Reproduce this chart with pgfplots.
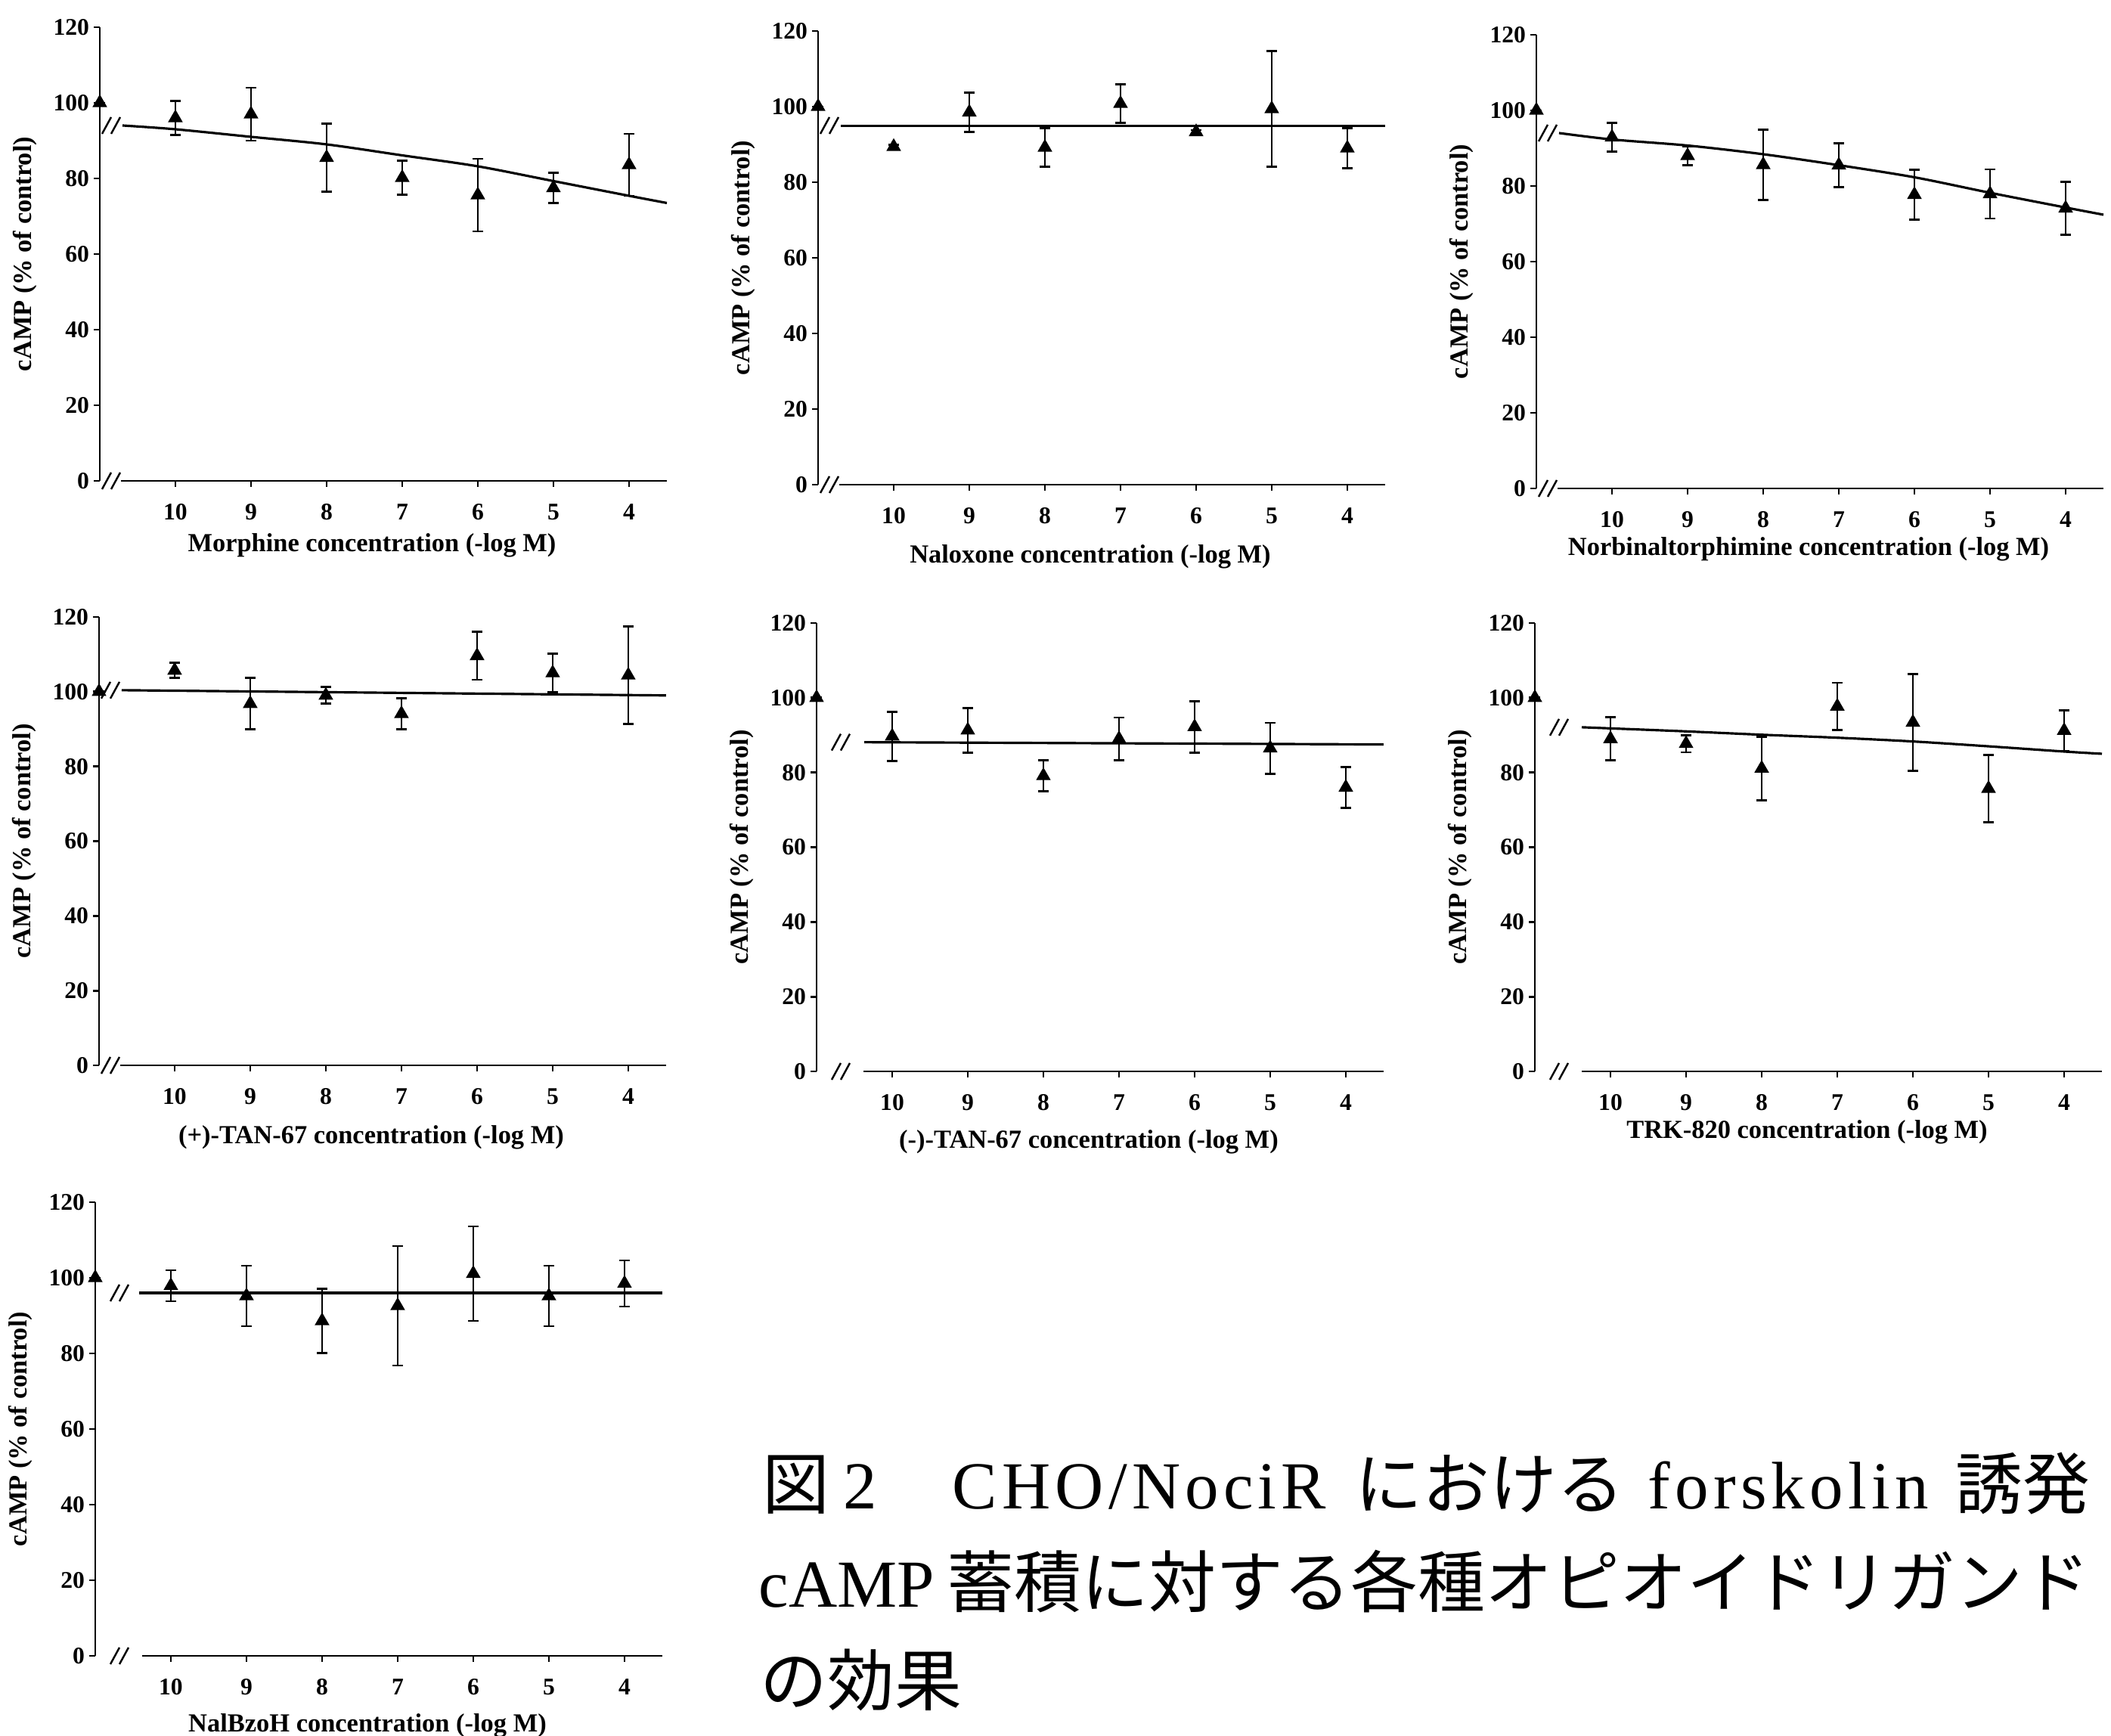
\documentclass[border=0pt]{standalone}
\usepackage{fontspec}
\setmainfont{Liberation Serif}
\newfontfamily\cjk{Noto Sans CJK JP}
\newfontfamily\capfont[LetterSpace=7]{Liberation Serif}
\usepackage{pgfplots}
\pgfplotsset{compat=1.18}

\pgfplotsset{
  panel/.style={
    anchor=south west, scale only axis, width=7.5cm, height=6cm,
    xmin=3.5, xmax=11, x dir=reverse, ymin=0, ymax=120,
    enlargelimits=false, clip=false,
    axis y line=left, axis x line=bottom,
    axis line style={-, line width=0.8pt},
    x axis line style={draw=none},
    xtick={4,5,...,10}, ytick={0,20,...,120},
    tick align=outside, major tick length=0.08cm,
    tick style={line width=0.8pt, black},
    /pgf/number format/assume math mode=true,
    ticklabel style={font=\fontsize{9}{10}\selectfont\bfseries},
    yticklabel style={inner sep=1.5pt},
    xticklabel style={yshift=-0.1cm},
    label style={font=\fontsize{9.8}{11}\selectfont\bfseries},
    ylabel={cAMP (\% of control)},
    ylabel style={at={(axis description cs:-0.132,0.5)}, anchor=center},
  },
  xlabpos/.style={xlabel style={at={(axis description cs:0.48,0)}, anchor=center, yshift=-#1}},
  pts/.style={only marks, mark=triangle*, mark size=2.8pt, black,
    error bars/.cd, y dir=both, y explicit,
    error bar style={line width=0.8pt, black},
    error mark options={rotate=90, mark size=2pt, line width=0.8pt, black}},
  fit/.style={no marks, smooth, line width=0.9pt, black},
}

% two short slashes marking an axis break, #1 = y value, #2 = offset from the y axis
\newcommand{\brk}[2]{\draw[line width=0.7pt, shift={(axis cs:11,#1)}]
  (#2,-0.11cm) -- ++(0.12cm,0.22cm) (#2+0.12cm,-0.11cm) -- ++(0.12cm,0.22cm);}

\begin{document}
\begin{tikzpicture}
\useasboundingbox (0,0) rectangle (27.92,22.95);

% Morphine
\begin{axis}[panel, at={(1.32cm,16.59cm)}, xlabel={Morphine concentration (-log M)}, xlabpos=0.85cm]
\addplot[fit] coordinates {(10.7,94) (10,93) (9,91) (8,89) (7,86.1) (6,83.2) (5,79.3) (4,75.4) (3.5,73.5)};
\addplot[pts] coordinates {(11,100) +- (0,0) (10,96) +- (0,4.5) (9,97) +- (0,7) (8,85.5) +- (0,9)
  (7,80.2) +- (0,4.5) (6,75.6) +- (0,9.6) (5,77.5) +- (0,4) (4,83.6) +- (0,8.2)};
\draw[line width=0.8pt] (axis cs:10.72,0) -- (axis cs:3.5,0);
\brk{0}{0.03cm}
\brk{94}{0.03cm}
\end{axis}

% Naloxone
\begin{axis}[panel, at={(10.82cm,16.54cm)}, xlabel={Naloxone concentration (-log M)}, xlabpos=0.95cm]
\addplot[fit] coordinates {(10.7,94.9) (3.5,94.9)};
\addplot[pts] coordinates {(11,100) +- (0,0) (10,89.4) +- (0,0.5) (9,98.5) +- (0,5.2) (8,89.2) +- (0,5.1)
  (7,100.8) +- (0,5.1) (6,93.3) +- (0,0.5) (5,99.4) +- (0,15.3) (4,89) +- (0,5.3)};
\draw[line width=0.8pt] (axis cs:10.72,0) -- (axis cs:3.5,0);
\brk{0}{0.03cm}
\brk{95}{0.03cm}
\end{axis}

% Norbinaltorphimine
\begin{axis}[panel, at={(20.32cm,16.49cm)}, xlabel={Norbinaltorphimine concentration (-log M)}, xlabpos=0.8cm]
\addplot[fit] coordinates {(10.7,94.0) (10,92.3) (9,90.7) (8,88.4) (7,85.5) (6,82.3) (5,78.2) (4,74.3) (3.5,72.4)};
\addplot[pts] coordinates {(11,100) +- (0,0) (10,92.9) +- (0,3.8) (9,88) +- (0,2.5) (8,85.6) +- (0,9.3)
  (7,85.5) +- (0,5.8) (6,77.7) +- (0,6.6) (5,77.9) +- (0,6.5) (4,74.1) +- (0,7)};
\draw[line width=0.8pt] (axis cs:10.72,0) -- (axis cs:3.5,0);
\brk{0}{0.03cm}
\brk{94}{0.03cm}
\end{axis}

% (+)-TAN-67
\begin{axis}[panel, at={(1.31cm,8.86cm)}, height=5.93cm, xlabel={(+)-TAN-67 concentration (-log M)}, xlabpos=0.95cm]
\addplot[fit] coordinates {(10.7,100.4) (3.5,99.0)};
\addplot[pts] coordinates {(11,100) +- (0,0) (10,105.7) +- (0,2) (9,96.8) +- (0,6.9) (8,99) +- (0,2.2)
  (7,94.1) +- (0,4.2) (6,109.6) +- (0,6.4) (5,105) +- (0,5.2) (4,104.4) +- (0,13)};
\draw[line width=0.8pt] (axis cs:10.72,0) -- (axis cs:3.5,0);
\brk{0}{0.03cm}
\brk{100.4}{0.03cm}
\end{axis}

% (-)-TAN-67
\begin{axis}[panel, at={(10.80cm,8.78cm)}, height=5.93cm, xlabel={(-)-TAN-67 concentration (-log M)}, xlabpos=0.93cm]
\addplot[fit] coordinates {(10.37,88.1) (3.5,87.5)};
\addplot[pts] coordinates {(11,100) +- (0,0) (10,89.7) +- (0,6.6) (9,91.3) +- (0,6) (8,79.1) +- (0,4.2)
  (7,89) +- (0,5.7) (6,92.2) +- (0,6.9) (5,86.5) +- (0,6.8) (4,76) +- (0,5.5)};
\draw[line width=0.8pt] (axis cs:10.38,0) -- (axis cs:3.5,0);
\brk{0}{0.2cm}
\brk{88.1}{0.2cm}
\end{axis}

% TRK-820
\begin{axis}[panel, at={(20.30cm,8.78cm)}, height=5.93cm, xlabel={TRK-820 concentration (-log M)}, xlabpos=0.8cm]
\addplot[fit] coordinates {(10.38,92.1) (10,91.8) (9,91.0) (8,90.1) (7,89.3) (6,88.3) (5,87.0) (4,85.6) (3.5,85.0)};
\addplot[pts] coordinates {(11,100) +- (0,0) (10,89) +- (0,5.8) (9,87.7) +- (0,2.3) (8,81.1) +- (0,8.5)
  (7,97.7) +- (0,6.3) (6,93.4) +- (0,13) (5,75.7) +- (0,9) (4,91.2) +- (0,5.5)};
\draw[line width=0.8pt] (axis cs:10.38,0) -- (axis cs:3.5,0);
\brk{0}{0.2cm}
\brk{92.1}{0.2cm}
\end{axis}

% NalBzoH
\begin{axis}[panel, at={(1.26cm,1.05cm)}, xlabel={NalBzoH concentration (-log M)}, xlabpos=0.92cm]
\addplot[fit] coordinates {(10.42,96) (3.5,96)};
\addplot[pts] coordinates {(11,100) +- (0,0) (10,97.9) +- (0,4.1) (9,95.2) +- (0,8) (8,88.6) +- (0,8.5)
  (7,92.6) +- (0,15.8) (6,101.1) +- (0,12.5) (5,95.2) +- (0,8) (4,98.5) +- (0,6.1)};
\draw[line width=0.8pt] (axis cs:10.38,0) -- (axis cs:3.5,0);
\brk{0}{0.2cm}
\brk{96}{0.2cm}
\end{axis}

% caption
\begin{scope}[every node/.style={anchor=base west, inner sep=0pt, font=\fontsize{25.3}{30}\selectfont}]
\node at (10.08,3.00) {\cjk 図};
\node at (11.15,3.00) {2};
\node at (12.59,3.00) {\capfont CHO/NociR};
\node at (17.92,3.00) {\cjk における};
\node at (21.79,3.00) {\capfont forskolin};
\node at (25.86,3.00) {\cjk 誘発};
\node at (10.03,1.70) {cAMP\hspace{0.17cm}{\cjk 蓄積に対する各種オピオイドリガンド}};
\node at (10.05,0.40) {\cjk の効果};
\end{scope}
\end{tikzpicture}
\end{document}
